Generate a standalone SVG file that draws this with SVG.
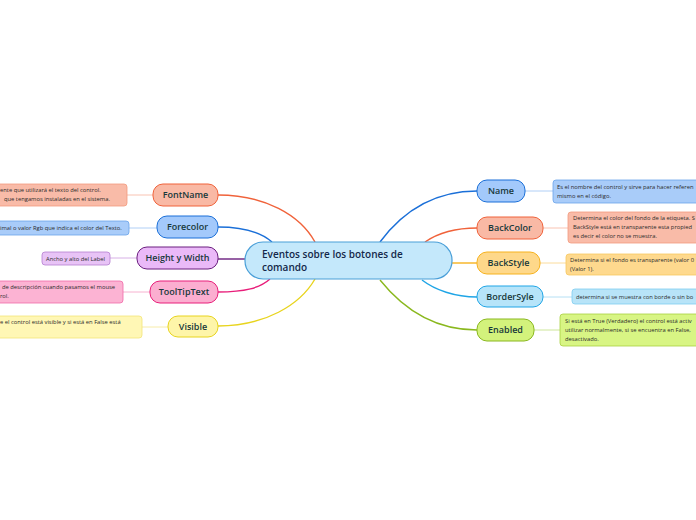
<svg xmlns="http://www.w3.org/2000/svg" width="696" height="520" viewBox="0 0 696 520">
<style>
.lbl{font-family:"Open Sans","Noto Sans","Liberation Sans",sans-serif;font-size:9px;font-weight:600;fill:#17383a;text-anchor:middle}
.ctr{font-family:"Open Sans","Noto Sans","Liberation Sans",sans-serif;font-size:10px;font-weight:600;fill:#14284a}
.dsc{font-family:"Open Sans","Noto Sans","Liberation Sans",sans-serif;font-size:5.8px;fill:#2a2a2a}
.c{fill:none;stroke-width:1.4}
.t{fill:none;stroke-width:1}
</style>
<rect width="696" height="520" fill="#ffffff"/>
<g id="connectors">
<path class="c" stroke="#f0623a" d="M218,195 C265,195 300,215 315,242"/>
<path class="c" stroke="#1a6fd8" d="M218,227 C245,227 262,233 272,242"/>
<path class="c" stroke="#6a1e7e" d="M218,259 L245,259"/>
<path class="c" stroke="#e81e7a" d="M218,292 C245,292 260,288 270,279"/>
<path class="c" stroke="#e8d41e" d="M218,326 C265,326 300,305 315,279"/>
<path class="c" stroke="#1a6fd8" d="M477,191 C430,191 400,215 380,242"/>
<path class="c" stroke="#f0623a" d="M477,228 C455,228 438,233 425,242"/>
<path class="c" stroke="#f6b21e" d="M452,263 L477,263"/>
<path class="c" stroke="#1fa5e6" d="M477,297 C455,297 435,290 422,280"/>
<path class="c" stroke="#8ab81e" d="M477,330 C430,330 400,305 380,280"/>
<path class="t" stroke="#f9c3b2" d="M127,195 L153,195"/>
<path class="t" stroke="#b0cff6" d="M129,228 L157,228"/>
<path class="t" stroke="#d7b0e6" d="M110,258 L137,258"/>
<path class="t" stroke="#f7b2d0" d="M123,292 L150,292"/>
<path class="t" stroke="#f7ecaa" d="M142,327 L168,327"/>
<path class="t" stroke="#b0cff6" d="M525,191 L553,191"/>
<path class="t" stroke="#f9c3b2" d="M543,228 L568,228"/>
<path class="t" stroke="#fbdc9c" d="M540,263 L566,263"/>
<path class="t" stroke="#b6e0f4" d="M543,297 L572,297"/>
<path class="t" stroke="#cde69a" d="M534,330 L560,330"/>
</g>
<g id="center">
<rect x="245" y="242" width="207" height="37" rx="18" fill="#c4e8fb" stroke="#4a9fd8" stroke-width="1.2"/>
<text class="ctr" x="262" y="258">Eventos sobre los botones de</text>
<text class="ctr" x="262" y="271">comando</text>
</g>
<g id="fontname">
<rect x="153" y="184" width="65" height="22" rx="10" fill="#f9b9a5" stroke="#f0623a"/>
<text class="lbl" x="185.5" y="198">FontName</text>
</g>
<g id="fontname-desc">
<rect x="-10" y="184" width="137" height="22" rx="3" fill="#f9bba8" stroke="#f39a7e" stroke-width="0.8"/>
<text class="dsc" x="0" y="192">ente que utilizará el texto del control.</text>
<text class="dsc" x="4" y="201">que tengamos instaladas en el sistema.</text>
</g>
<g id="forecolor">
<rect x="157" y="216" width="61" height="22" rx="10" fill="#a3c9fb" stroke="#1a6fd8"/>
<text class="lbl" x="187.5" y="230">Forecolor</text>
</g>
<g id="forecolor-desc">
<rect x="-10" y="221" width="139" height="14" rx="3" fill="#a9ccf9" stroke="#6aa3ea" stroke-width="0.8"/>
<text class="dsc" x="0" y="230">imal o valor Rgb que indica el color del Texto.</text>
</g>
<g id="heightwidth">
<rect x="137" y="247" width="81" height="22" rx="10" fill="#eab9f8" stroke="#6a1e7e"/>
<text class="lbl" x="177.5" y="261">Height y Width</text>
</g>
<g id="heightwidth-desc">
<rect x="42" y="252" width="68" height="13" rx="3" fill="#e8c3f6" stroke="#b57ed0" stroke-width="0.8"/>
<text class="dsc" x="46" y="260.5">Ancho y alto del Label</text>
</g>
<g id="tooltiptext">
<rect x="150" y="281" width="68" height="22" rx="10" fill="#fbaed0" stroke="#e81e7a"/>
<text class="lbl" x="184" y="295">ToolTipText</text>
</g>
<g id="tooltiptext-desc">
<rect x="-10" y="281" width="133" height="22" rx="3" fill="#fcb3d3" stroke="#f06aa8" stroke-width="0.8"/>
<text class="dsc" x="2" y="289">de descripción cuando pasamos el mouse</text>
<text class="dsc" x="0" y="298">rol.</text>
</g>
<g id="visible">
<rect x="168" y="316" width="50" height="21" rx="10" fill="#fef5a9" stroke="#e8d41e"/>
<text class="lbl" x="193" y="330">Visible</text>
</g>
<g id="visible-desc">
<rect x="-10" y="316" width="152" height="22" rx="3" fill="#fff7b5" stroke="#f2e47a" stroke-width="0.8"/>
<text class="dsc" x="0" y="324">e el control está visible y si está en False está</text>
</g>
<g id="name">
<rect x="477" y="180" width="48" height="22" rx="10" fill="#a3c9fb" stroke="#1a6fd8"/>
<text class="lbl" x="501" y="194">Name</text>
</g>
<g id="name-desc">
<rect x="553" y="180" width="160" height="23" rx="3" fill="#a9ccf9" stroke="#6aa3ea" stroke-width="0.8"/>
<text class="dsc" x="557" y="189">Es el nombre del control y sirve para hacer referen</text>
<text class="dsc" x="557" y="198">mismo en el código.</text>
</g>
<g id="backcolor">
<rect x="477" y="217" width="66" height="22" rx="10" fill="#f9b9a5" stroke="#f0623a"/>
<text class="lbl" x="510" y="231">BackColor</text>
</g>
<g id="backcolor-desc">
<rect x="568" y="212" width="140" height="31" rx="3" fill="#f9bba8" stroke="#f39a7e" stroke-width="0.8"/>
<text class="dsc" x="573" y="220">Determina el color del fondo de la etiqueta. S</text>
<text class="dsc" x="573" y="229">BackStyle está en transparente esta propied</text>
<text class="dsc" x="573" y="238">es decir el color no se muestra.</text>
</g>
<g id="backstyle">
<rect x="477" y="252" width="63" height="22" rx="10" fill="#fed88a" stroke="#f6b21e"/>
<text class="lbl" x="508.5" y="266">BackStyle</text>
</g>
<g id="backstyle-desc">
<rect x="566" y="254" width="140" height="21" rx="3" fill="#fed98e" stroke="#f8c860" stroke-width="0.8"/>
<text class="dsc" x="570" y="262">Determina si el fondo es transparente (valor 0</text>
<text class="dsc" x="570" y="271">(Valor 1).</text>
</g>
<g id="bordersyle">
<rect x="477" y="286" width="66" height="21" rx="10" fill="#b6e4f9" stroke="#1fa5e6"/>
<text class="lbl" x="510" y="300">BorderSyle</text>
</g>
<g id="bordersyle-desc">
<rect x="572" y="289" width="140" height="15" rx="3" fill="#b8e4f8" stroke="#7fcdf0" stroke-width="0.8"/>
<text class="dsc" x="576" y="298.5">determina si se muestra con borde o sin bo</text>
</g>
<g id="enabled">
<rect x="477" y="319" width="57" height="22" rx="10" fill="#d3f27c" stroke="#8ab81e"/>
<text class="lbl" x="505.5" y="333">Enabled</text>
</g>
<g id="enabled-desc">
<rect x="560" y="314" width="150" height="32" rx="3" fill="#d8f584" stroke="#a8d040" stroke-width="0.8"/>
<text class="dsc" x="565" y="323">Si está en True (Verdadero) el control está activ</text>
<text class="dsc" x="565" y="332">utilizar normalmente, si se encuentra en False,</text>
<text class="dsc" x="565" y="341">desactivado.</text>
</g>
</svg>
